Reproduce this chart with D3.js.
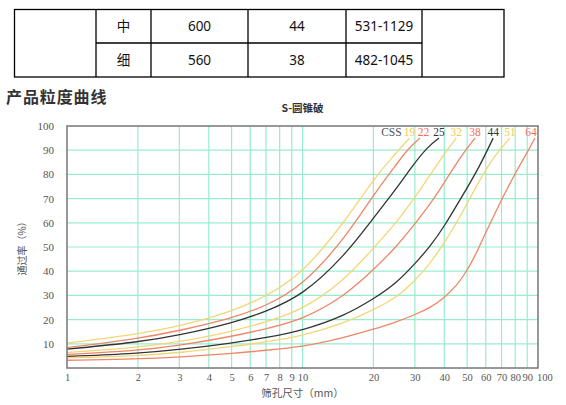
<!DOCTYPE html>
<html><head><meta charset="utf-8">
<script src="https://cdn.jsdelivr.net/npm/d3@7"></script>
<style>
html,body{margin:0;padding:0;background:#fff;}
svg{display:block;}
</style></head>
<body>
<svg id="c" width="566" height="405"></svg>
<script>
// ---- data ----
const tableRows = [["中","600","44","531-1129"],["细","560","38","482-1045"]];
const chartTitle = "S-圆锥破";
const sectionTitle = "产品粒度曲线";
const xTickValues = [1,2,3,4,5,6,7,8,9,10,20,30,40,50,60,70,80,90,100];
const yTickValues = [10,20,30,40,50,60,70,80,90,100];
const seriesNames = ["19","22","25","32","38","44","51","64"];
const seriesColors = ["#f3d676","#ee8668","#333333","#f3d676","#ee8668","#333333","#f3d676","#ee8668"];
const labelColors = ["#f3c94a","#ec6f55","#333333","#f3c94a","#ec6f55","#333333","#f3c94a","#ec6f55"];
const css19 = [[1,10.3],[2,14],[3,17.2],[5,23.3],[7,29.5],[10,39],[15,60],[20,78],[25,89],[28.5,95]];
const css22 = [[1,8.4],[2,12.1],[3,15.4],[5,20.5],[7,25.6],[10,34],[15,53],[20,71.5],[25,84],[28,90.5],[31.5,95]];
const css25 = [[1,7.8],[2,10.6],[3,13.6],[5,18.5],[7,23.3],[10,30],[15,46],[20,62],[25,74],[29,83],[34,91.5],[38,95]];
const css32 = [[1,6.4],[2,8.5],[3,10.8],[5,15],[7,19],[10,24],[15,36],[20,49.5],[25,60],[30,70.5],[35,80],[40,88.5],[45,95]];
const css38 = [[1,5.6],[2,7.2],[3,9.3],[5,13],[7,16.2],[10,20],[15,29.5],[20,40.5],[25,50],[30,59.5],[35,68],[40,76.5],[47,87.5],[54,95]];
const css44 = [[1,4.8],[2,6],[3,7.6],[5,10.3],[7,12.5],[10,15.5],[15,21.5],[20,28.5],[25,35],[30,43],[35,50.5],[40,58.5],[47,70],[56,82.5],[64.5,95]];
const css51 = [[1,4.2],[2,5.1],[3,6.3],[5,8.8],[7,10.8],[10,13.2],[15,18.5],[20,24],[25,29],[30,36],[35,43.5],[40,51.5],[47,63],[56,77],[65,87.5],[76,95]];
const css64 = [[1,3.2],[2,3.7],[3,4.5],[5,6],[7,7.3],[10,8.8],[15,12.5],[20,16],[25,19],[30,22],[35,25],[40,29],[45,34],[50,40],[56,49.5],[60,56],[65,63],[70,69.5],[80,80.5],[90,89],[97,95]];
const seriesData = [css19,css22,css25,css32,css38,css44,css51,css64];

// ---- drawing ----
(function(){
const svg = d3.select("#c");

// table
const colEdges = [14.5, 96, 151, 248, 346, 422, 504];
const rowEdges = [9.5, 43, 77];
const tg = svg.append("g").attr("stroke","#000").attr("stroke-width",1.3).attr("fill","none");
tg.append("rect").attr("x",colEdges[0]).attr("y",rowEdges[0]).attr("width",colEdges[6]-colEdges[0]).attr("height",rowEdges[2]-rowEdges[0]);
colEdges.slice(1,6).forEach(v=>tg.append("line").attr("x1",v).attr("x2",v).attr("y1",rowEdges[0]).attr("y2",rowEdges[2]));
tg.append("line").attr("x1",colEdges[1]).attr("x2",colEdges[5]).attr("y1",rowEdges[1]).attr("y2",rowEdges[1]);
tableRows.forEach((row,ri)=>{
  row.forEach((cell,ci)=>{
    svg.append("text")
      .attr("x",(colEdges[ci+1]+colEdges[ci+2])/2)
      .attr("y",(rowEdges[ri]+rowEdges[ri+1])/2)
      .attr("dy","0.36em")
      .attr("text-anchor","middle")
      .attr("font-family","'Noto Sans','Noto Sans CJK SC',sans-serif")
      .attr("font-size",13.5)
      .attr("fill","#111")
      .text(cell);
  });
});

// section title
svg.append("text").attr("x",6).attr("y",103)
  .attr("font-family","'Noto Sans CJK SC',sans-serif").attr("font-weight","bold")
  .attr("font-size",16).attr("letter-spacing",0.9).attr("fill","#333").text(sectionTitle);

// chart
const pL=67, pR=538, pT=126, pB=368;
const x = d3.scaleLog().domain([1,100]).range([pL,pR]);
const y = d3.scaleLinear().domain([0,100]).range([pB,pT]);

svg.append("text").attr("x",(pL+pR)/2).attr("y",108).attr("dy","0.36em")
  .attr("text-anchor","middle").attr("font-family","'Noto Sans CJK SC',serif")
  .attr("font-weight","bold").attr("font-size",10.5).attr("fill","#333").text(chartTitle);

const grid = svg.append("g").attr("stroke","#98ecce").attr("stroke-width",1.2);
xTickValues.filter(v=>v>1&&v<100).forEach(v=>{
  grid.append("line").attr("x1",x(v)).attr("x2",x(v)).attr("y1",pT).attr("y2",pB);
});
yTickValues.filter(v=>v<100).forEach(v=>{
  grid.append("line").attr("x1",pL).attr("x2",pR).attr("y1",y(v)).attr("y2",y(v));
});

const xAxis = d3.axisBottom(x).tickValues(xTickValues).tickFormat(d3.format("d")).tickSize(0).tickPadding(6);
const gx = svg.append("g").attr("transform",`translate(0,${pB})`).call(xAxis);
gx.select(".domain").remove();
gx.selectAll("text").attr("font-family","'Liberation Serif',serif").attr("font-size",10.5).attr("fill","#555");
gx.selectAll(".tick").filter(d=>d===100).select("text").attr("text-anchor","start").attr("dx",-1.5);

const yAxis = d3.axisLeft(y).tickValues(yTickValues).tickSize(0).tickPadding(13);
const gy = svg.append("g").attr("transform",`translate(${pL},0)`).call(yAxis);
gy.select(".domain").remove();
gy.selectAll("text").attr("font-family","'Liberation Serif',serif").attr("font-size",11).attr("fill","#555");

// curves
const line = d3.line().x(d=>x(d[0])).y(d=>y(d[1])).curve(d3.curveBasis);
seriesData.forEach((s,i)=>{
  svg.append("path").attr("d",line(s)).attr("fill","none")
    .attr("stroke",seriesColors[i]).attr("stroke-width",1.3);
});

// border
svg.append("rect").attr("x",pL).attr("y",pT).attr("width",pR-pL).attr("height",pB-pT)
  .attr("fill","none").attr("stroke","#777").attr("stroke-width",1.5);

// labels: placed above each curve's end, spread to avoid overlap
const labY = 132;
const labelX = [];
seriesData.forEach((s,i)=>{
  let lx = x(s[s.length-1][0]);
  if (i>0) lx = Math.max(lx, labelX[i-1]+14);
  labelX.push(Math.min(lx, pR-7));
});
seriesNames.forEach((n,i)=>{
  svg.append("text").attr("x",labelX[i]).attr("y",labY).attr("dy","0.36em")
    .attr("text-anchor","middle").attr("font-family","'Liberation Serif',serif")
    .attr("font-size",11.5).attr("fill",labelColors[i]).text(n);
});
svg.append("text").attr("x",labelX[0]-8).attr("y",labY).attr("dy","0.36em")
  .attr("text-anchor","end").attr("font-family","'Liberation Serif',serif")
  .attr("font-size",11.5).attr("fill","#555").text("CSS");

// axis titles
svg.append("text").attr("x",(pL+pR)/2).attr("y",393).attr("dy","0.36em")
  .attr("text-anchor","middle").attr("font-family","'Noto Sans CJK SC',serif")
  .attr("font-size",10.5).attr("fill","#555").text("筛孔尺寸（mm）");
svg.append("text").attr("transform","translate(22,246) rotate(-90)").attr("dy","0.36em")
  .attr("text-anchor","middle").attr("font-family","'Noto Sans CJK SC',serif")
  .attr("font-size",10).attr("fill","#555").text("通过率（%）");
})();
</script>
</body></html>
